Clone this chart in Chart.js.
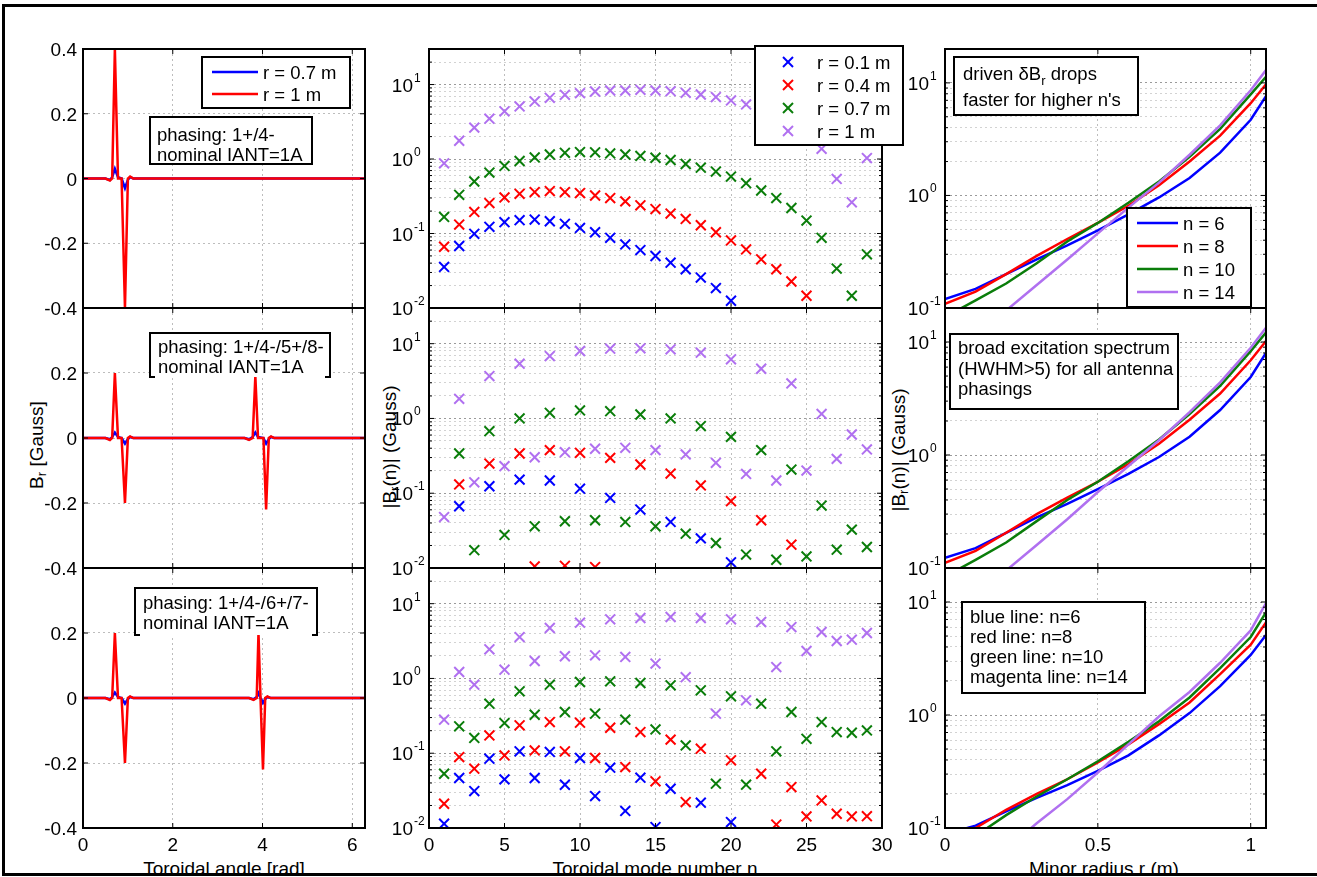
<!DOCTYPE html>
<html>
<head>
<meta charset="utf-8">
<title>Driven Br: toroidal waveform, spectrum and radial profile</title>
<script src="https://cdn.jsdelivr.net/npm/chart.js@4.4.1/dist/chart.umd.min.js"></script>
<style>
  html, body { margin: 0; padding: 0; background: #fff; }
  #fig { position: relative; width: 1317px; height: 877px; overflow: hidden;
         font-family: "Liberation Sans", Arial, Helvetica, sans-serif; color: #000; }
  #fig canvas { position: absolute; }
  .frame { position: absolute; left: 2px; top: 4px; width: 1340px; height: 872px; box-sizing: border-box;
           border: 3px solid #000; border-right: none; z-index: 5; }
  .ytitle { position: absolute; font-size: 19px; white-space: nowrap; transform: translate(-50%, -50%) rotate(-90deg); }
  .ytitle sub { font-size: 13px; vertical-align: -3px; line-height: 0; }
  .xclip { position: absolute; left: 0; top: 840px; width: 1317px; height: 33px; overflow: hidden; }
  .xtitle { position: absolute; top: 19px; font-size: 19px; line-height: 19px; white-space: nowrap; transform: translateX(-50%); }
</style>
</head>
<body>
<div id="fig">
  <div class="ytitle" style="left:37px;top:445px">B<sub>r</sub> [Gauss]</div>
  <div class="ytitle" style="left:390px;top:447px">|B<sub>r</sub>(n)| (Gauss)</div>
  <div class="ytitle" style="left:899px;top:450px">|B<sub>r</sub>(n)| (Gauss)</div>
  <div class="xclip">
    <div class="xtitle" style="left:224px">Toroidal angle [rad]</div>
    <div class="xtitle" style="left:655px">Toroidal mode number n</div>
    <div class="xtitle" style="left:1104px">Minor radius r (m)</div>
  </div>
  <div class="frame"></div>
</div>
<script>
// ---------- data: left column, Br versus toroidal angle ----------
var angleA = [0, 0.5, 0.6, 0.65, 0.71, 0.78, 0.86, 0.935, 1.0, 1.05, 1.12, 6.2832];
var brA_r07 = [0, 0, -0.005, 0.004, 0.03, 0.004, 0, -0.03, -0.004, 0.004, 0, 0];
var brA_r10 = [0, 0, -0.006, 0, 0.4, 0, 0, -0.4, 0, 0.006, 0, 0];

var angleB = [0, 0.5, 0.6, 0.65, 0.71, 0.78, 0.86, 0.935, 1.0, 1.05, 1.12, 3.6, 3.7, 3.78, 3.84, 3.9, 4.02, 4.08, 4.14, 4.19, 4.26, 6.2832];
var brB_r07 = [0, 0, -0.004, 0.003, 0.017, 0.003, 0, -0.017, -0.003, 0.003, 0, 0, -0.004, 0.003, 0.017, 0.003, 0, -0.017, -0.003, 0.003, 0, 0];
var brB_r10 = [0, 0, -0.006, 0, 0.2, 0, 0, -0.2, 0, 0.005, 0, 0, -0.006, 0, 0.19, 0, 0, -0.22, 0, 0.005, 0, 0];

var angleC = [0, 0.5, 0.6, 0.65, 0.71, 0.78, 0.86, 0.935, 1.0, 1.05, 1.12, 3.7, 3.8, 3.87, 3.91, 3.955, 4.01, 4.06, 4.11, 4.18, 6.2832];
var brC_r07 = [0, 0, -0.004, 0.003, 0.017, 0.003, 0, -0.017, -0.003, 0.003, 0, 0, -0.004, 0.003, 0.015, 0, -0.015, -0.003, 0.003, 0, 0];
var brC_r10 = [0, 0, -0.006, 0, 0.2, 0, 0, -0.2, 0, 0.005, 0, 0, -0.006, 0, 0.2, 0, -0.22, 0, 0.005, 0, 0];

// ---------- data: middle column, |Br(n)| spectrum ----------
var modeN = [1, 2, 3, 4, 5, 6, 7, 8, 9, 10, 11, 12, 13, 14, 15, 16, 17, 18, 19, 20, 21, 22, 23, 24, 25, 26, 27, 28, 29];

var specA_r01 = [0.0356, 0.068, 0.099, 0.123, 0.142, 0.151, 0.154, 0.146, 0.135, 0.119, 0.104, 0.0876, 0.0713, 0.060, 0.0499, 0.0406, 0.0331, 0.0256, 0.0185, 0.0125, null, null, null, null, null, null, null, null, null];
var specA_r04 = [0.0664, 0.132, 0.195, 0.256, 0.305, 0.341, 0.360, 0.371, 0.360, 0.349, 0.324, 0.299, 0.270, 0.239, 0.213, 0.185, 0.157, 0.129, 0.104, 0.0807, 0.0612, 0.045, 0.0331, 0.0227, 0.0146, null, null, null, null];
var specA_r07 = [0.167, 0.331, 0.499, 0.657, 0.807, 0.94, 1.05, 1.15, 1.21, 1.24, 1.23, 1.19, 1.15, 1.10, 1.04, 0.97, 0.857, 0.766, 0.678, 0.581, 0.474, 0.378, 0.299, 0.22, 0.149, 0.0876, 0.0338, 0.0146, 0.0525];
var specA_r10 = [0.875, 1.76, 2.64, 3.48, 4.37, 5.09, 5.93, 6.64, 7.28, 7.66, 8.07, 8.32, 8.32, 8.49, 8.32, 8.15, 7.74, 7.35, 6.78, 6.12, 5.41, 4.6, 3.7, 2.8, 2.0, 1.37, 0.541, 0.262, 1.03];

var specB_r01 = [null, 0.067, null, 0.124, null, 0.152, null, 0.148, null, 0.115, null, 0.0866, null, 0.0604, null, 0.0413, null, 0.0249, null, 0.0119, null, null, null, null, null, null, null, null, null];
var specB_r04 = [null, 0.131, null, 0.249, null, 0.34, 0.0105, 0.377, 0.0107, 0.347, 0.0103, 0.297, null, 0.242, null, 0.183, null, 0.127, null, 0.0782, null, 0.0435, null, 0.0205, null, null, null, null, null];
var specB_r07 = [null, 0.34, 0.0173, 0.676, 0.0277, 1.0, 0.0361, 1.19, 0.0422, 1.28, 0.0435, 1.25, 0.0413, 1.13, 0.0361, 1.0, 0.0288, 0.79, 0.0216, 0.567, 0.0151, 0.377, 0.0129, 0.207, 0.0143, 0.0684, 0.0176, 0.0326, 0.0191];
var specB_r10 = [0.048, 1.83, 0.140, 3.69, 0.230, 5.4, 0.303, 6.83, 0.354, 7.98, 0.393, 8.58, 0.405, 8.66, 0.377, 8.4, 0.33, 7.57, 0.255, 6.17, 0.181, 4.62, 0.148, 2.94, 0.201, 1.15, 0.288, 0.61, 0.385];

var specC_r01 = [0.0114, 0.0466, 0.0312, 0.0845, 0.0447, 0.106, 0.0466, 0.104, 0.0379, 0.0863, 0.0267, 0.0641, 0.0169, 0.0471, 0.0103, 0.0335, null, 0.0218, null, 0.0120, null, null, null, null, null, null, null, null, null];
var specC_r04 = [0.0211, 0.0889, 0.0621, 0.173, 0.0935, 0.236, 0.109, 0.261, 0.106, 0.256, 0.0863, 0.219, 0.0653, 0.192, 0.0421, 0.152, 0.0222, 0.115, null, 0.0803, null, 0.0532, 0.0111, 0.0353, 0.0143, 0.0234, 0.0155, 0.0143, 0.0144];
var specC_r07 = [0.0532, 0.229, 0.160, 0.46, 0.253, 0.672, 0.327, 0.826, 0.356, 0.896, 0.338, 0.915, 0.281, 0.869, 0.208, 0.809, 0.127, 0.693, 0.0392, 0.577, 0.038, 0.46, 0.106, 0.356, 0.156, 0.261, 0.192, 0.188, 0.202];
var specC_r10 = [0.281, 1.22, 0.826, 2.45, 1.31, 3.58, 1.71, 4.73, 1.98, 5.57, 2.04, 6.17, 1.94, 6.43, 1.58, 6.63, 1.04, 6.43, 0.338, 6.17, 0.51, 5.69, 1.42, 4.87, 2.33, 4.18, 3.17, 3.3, 4.05];

// ---------- data: right column, |Br(n)| versus minor radius ----------
var radius = [0, 0.1, 0.2, 0.3, 0.4, 0.5, 0.6, 0.7, 0.8, 0.9, 1.0, 1.05];

var profA_n6 = [0.12, 0.148, 0.2, 0.27, 0.36, 0.49, 0.68, 0.96, 1.43, 2.4, 4.7, 7.6];
var profA_n8 = [0.109, 0.14, 0.2, 0.29, 0.41, 0.57, 0.81, 1.23, 2.0, 3.4, 6.6, 9.7];
var profA_n10 = [0.083, 0.117, 0.165, 0.25, 0.39, 0.57, 0.86, 1.33, 2.2, 3.9, 7.9, 11.3];
var profA_n14 = [0.032, 0.055, 0.095, 0.16, 0.27, 0.46, 0.78, 1.3, 2.3, 4.2, 8.6, 13.0];

var profB_n6 = [0.123, 0.15, 0.205, 0.28, 0.37, 0.5, 0.68, 0.96, 1.45, 2.5, 4.9, 8.0];
var profB_n8 = [0.111, 0.142, 0.205, 0.3, 0.42, 0.58, 0.83, 1.26, 2.05, 3.5, 6.9, 10.2];
var profB_n10 = [0.084, 0.118, 0.168, 0.26, 0.4, 0.58, 0.88, 1.37, 2.3, 4.1, 8.3, 12.1];
var profB_n14 = [0.032, 0.055, 0.095, 0.16, 0.27, 0.47, 0.8, 1.35, 2.4, 4.4, 8.9, 13.4];

var profC_n6 = [0.088, 0.105, 0.14, 0.185, 0.24, 0.32, 0.44, 0.66, 1.04, 1.8, 3.4, 5.1];
var profC_n8 = [0.075, 0.1, 0.145, 0.2, 0.27, 0.38, 0.55, 0.83, 1.29, 2.3, 4.2, 6.6];
var profC_n10 = [0.062, 0.085, 0.13, 0.19, 0.27, 0.39, 0.58, 0.88, 1.43, 2.6, 4.9, 8.1];
var profC_n14 = [0.02, 0.038, 0.065, 0.11, 0.18, 0.31, 0.55, 0.97, 1.6, 2.9, 5.6, 9.8];

// ---------- ticks and texts ----------
var angleTicks = [0, 2, 4, 6];
var brTicks = [-0.4, -0.2, 0, 0.2, 0.4];
var modeTicks = [0, 5, 10, 15, 20, 25, 30];
var radiusTicks = [0, 0.5, 1];
var specDecades = [0.01, 0.1, 1, 10];
var profDecades = [0.1, 1, 10];

var radiusLabels = ['r = 0.7 m', 'r = 1 m'];
var spectrumLabels = ['r = 0.1 m', 'r = 0.4 m', 'r = 0.7 m', 'r = 1 m'];
var profileLabels = ['n = 6', 'n = 8', 'n = 10', 'n = 14'];
var phasingA = ['phasing: 1+/4-', 'nominal IANT=1A'];
var phasingB = ['phasing: 1+/4-/5+/8-', 'nominal IANT=1A'];
var phasingC = ['phasing: 1+/4-/6+/7-', 'nominal IANT=1A'];
var noteA = ['driven \u03B4B_r drops', "faster for higher n's"];
var noteB = ['broad excitation spectrum', '(HWHM>5) for all antenna', 'phasings'];
var noteC = ['blue line: n=6', 'red line: n=8', 'green line: n=10', 'magenta line: n=14'];

var BLUE = '#0000ff', RED = '#ff0000', GREEN = '#0a7d0a', PURPLE = '#b070f0';
var FONT = '"Liberation Sans", Arial, Helvetica, sans-serif';

// panel geometry on the page
var ML = 80, MR = 45, MT = 12, MB = 40;
var colBox = [[83, 365], [429, 882], [945, 1266]];
var rowBox = [[49, 308], [308, 568], [568, 828]];

function pairs(xs, ys) {
    var out = [];
    for (var i = 0; i < xs.length; i++) {
        if (ys[i] !== null) out.push({ x: xs[i], y: ys[i] });
    }
    return out;
}

function decadeGrid(min, max) {
    var out = [];
    for (var e = -3; e <= 2; e++) {
        for (var m = 1; m <= 9; m++) {
            var v = Number((m * Math.pow(10, e)).toPrecision(3));
            if (v >= min - 1e-12 && v <= max + 1e-12) out.push(v);
        }
    }
    return out;
}

function isDecade(v) {
    var l = Math.log10(v);
    return Math.abs(l - Math.round(l)) < 1e-9;
}

function lineSet(xs, ys, color) {
    return { data: pairs(xs, ys), showLine: true, borderColor: color, backgroundColor: color,
             borderWidth: 2.5, pointRadius: 0, tension: 0, fill: false };
}

function crossSet(ys, color) {
    return { data: pairs(modeN, ys), showLine: false, pointStyle: 'crossRot', pointRadius: 7,
             pointBorderWidth: 2, borderColor: color, backgroundColor: color,
             pointBorderColor: color };
}

function richText(ctx, s, x, y, size) {
    var parts = s.split(/_(.)/);
    var cx = x;
    for (var i = 0; i < parts.length; i++) {
        if (i % 2) {
            ctx.font = Math.round(size * 0.7) + 'px ' + FONT;
            ctx.fillText(parts[i], cx, y + 5);
        } else {
            ctx.font = size + 'px ' + FONT;
            ctx.fillText(parts[i], cx, y);
        }
        cx += ctx.measureText(parts[i]).width;
    }
    ctx.font = size + 'px ' + FONT;
}

function seg(ctx, x1, y1, x2, y2) {
    ctx.beginPath();
    ctx.moveTo(x1, y1);
    ctx.lineTo(x2, y2);
    ctx.stroke();
}

function drawBox(ctx, b, ox, oy) {
    var x = b.x - ox, y = b.y - oy;
    ctx.fillStyle = '#fff';
    ctx.fillRect(x, y, b.w, b.h);
    ctx.strokeStyle = '#000';
    ctx.lineWidth = 2;
    if (b.bracket) {
        ctx.beginPath();
        ctx.moveTo(x + 5, y + b.h);
        ctx.lineTo(x, y + b.h);
        ctx.lineTo(x, y);
        ctx.lineTo(x + b.w, y);
        ctx.lineTo(x + b.w, y + b.h);
        ctx.lineTo(x + b.w - 5, y + b.h);
        ctx.stroke();
    } else {
        ctx.strokeRect(x, y, b.w, b.h);
    }
    ctx.fillStyle = '#000';
    ctx.textAlign = 'left';
    ctx.textBaseline = 'alphabetic';
    var size = 18.5;
    ctx.font = size + 'px ' + FONT;
    (b.lines || []).forEach(function (t, i) {
        richText(ctx, t, b.tx - ox, b.ty - oy + i * b.lh, size);
    });
    (b.items || []).forEach(function (it, i) {
        var cy = b.iy - oy + i * b.ilh;
        ctx.strokeStyle = it.color;
        ctx.lineWidth = 2.5;
        if (b.kind === 'line') {
            seg(ctx, b.lx0 - ox, cy, b.lx1 - ox, cy);
        } else {
            var mx = b.mx - ox, d = 5;
            ctx.lineWidth = 2;
            seg(ctx, mx - d, cy - d, mx + d, cy + d);
            seg(ctx, mx - d, cy + d, mx + d, cy - d);
        }
        ctx.fillStyle = '#000';
        ctx.fillText(it.label, b.tx - ox, cy + 7);
    });
}

var deco = {
    id: 'deco',
    afterDraw: function (chart, args, o) {
        var ctx = chart.ctx, a = chart.chartArea, sx = chart.scales.x, sy = chart.scales.y;
        ctx.save();
        ctx.setLineDash([]);
        ctx.strokeStyle = '#000';
        ctx.lineWidth = 1;
        // inner tick marks
        o.xAxis.labelsAt.forEach(function (v) {
            var p = sx.getPixelForValue(v);
            seg(ctx, p, a.bottom, p, a.bottom - 5);
            seg(ctx, p, a.top, p, a.top + 5);
        });
        o.yAxis.grid.forEach(function (v) {
            var p = sy.getPixelForValue(v);
            var len = (!o.yAxis.log || isDecade(v)) ? 5 : 3;
            seg(ctx, a.left, p, a.left + len, p);
            seg(ctx, a.right, p, a.right - len, p);
        });
        // axes box
        ctx.lineWidth = 2;
        ctx.strokeRect(a.left, a.top, a.right - a.left, a.bottom - a.top);

        // tick labels
        ctx.fillStyle = '#000';
        ctx.textBaseline = 'alphabetic';
        ctx.font = '19px ' + FONT;
        if (o.showX) {
            ctx.textAlign = 'center';
            o.xAxis.labelsAt.forEach(function (v) {
                ctx.fillText(String(v), sx.getPixelForValue(v), a.bottom + 23);
            });
        }
        if (o.yAxis.log) {
            o.yAxis.labelsAt.forEach(function (v) {
                var p = sy.getPixelForValue(v);
                ctx.font = '19px ' + FONT;
                ctx.textAlign = 'right';
                ctx.fillText('10', a.left - 16, p + 7);
                ctx.font = '12px ' + FONT;
                ctx.textAlign = 'left';
                ctx.fillText(String(Math.round(Math.log10(v))), a.left - 15, p - 3);
            });
        } else {
            ctx.textAlign = 'right';
            o.yAxis.labelsAt.forEach(function (v) {
                if (o.skipTop && v === o.yAxis.max) return;
                ctx.fillText(String(v), a.left - 6, sy.getPixelForValue(v) + 7);
            });
        }
        (o.boxes || []).forEach(function (b) { drawBox(ctx, b, o.ox, o.oy); });
        ctx.restore();
    }
};

function axisOptions(spec, which) {
    return {
        type: spec.log ? 'logarithmic' : 'linear',
        min: spec.min,
        max: spec.max,
        afterBuildTicks: function (s) { s.ticks = spec.grid.map(function (v) { return { value: v }; }); },
        afterFit: function (s) { if (which === 'x') s.height = MB; else s.width = ML; },
        ticks: { display: false },
        grid: {
            drawTicks: false,
            lineWidth: 1,
            color: function (c) {
                if (!c.tick) return '#cccccc';
                if (spec.log) return isDecade(c.tick.value) ? '#9a9a9a' : '#d2d2d2';
                return '#bdbdbd';
            }
        },
        border: { display: false, dash: [2, 3] }
    };
}

function panel(col, row, xSpec, ySpec, datasets, extra) {
    var x0 = colBox[col][0], x1 = colBox[col][1];
    var y0 = rowBox[row][0], y1 = rowBox[row][1];
    var cv = document.createElement('canvas');
    cv.width = x1 - x0 + ML + MR;
    cv.height = y1 - y0 + MT + MB;
    cv.style.left = (x0 - ML) + 'px';
    cv.style.top = (y0 - MT) + 'px';
    document.getElementById('fig').appendChild(cv);
    var decoOpts = { xAxis: xSpec, yAxis: ySpec, showX: row === 2, skipTop: row > 0 && !ySpec.log,
                     boxes: extra || [], ox: x0 - ML, oy: y0 - MT };
    // Chart.js paints the first dataset on top; the figure has the last series on top
    return new Chart(cv, {
        type: 'scatter',
        data: { datasets: datasets.slice().reverse() },
        options: {
            responsive: false,
            animation: false,
            events: [],
            layout: { padding: { left: 0, right: MR, top: MT, bottom: 0 } },
            plugins: { legend: { display: false }, tooltip: { enabled: false }, deco: decoOpts },
            scales: { x: axisOptions(xSpec, 'x'), y: axisOptions(ySpec, 'y') }
        },
        plugins: [deco]
    });
}

var axAngle = { min: 0, max: 2 * Math.PI, grid: angleTicks, labelsAt: angleTicks };
var axBr = { min: -0.4, max: 0.4, grid: brTicks, labelsAt: brTicks };
var axMode = { min: 0, max: 30, grid: modeTicks, labelsAt: modeTicks };
var axSpec = { log: true, min: 0.01, max: 30, grid: decadeGrid(0.01, 30), labelsAt: specDecades };
var axRadius = { min: 0, max: 1.05, grid: radiusTicks, labelsAt: radiusTicks };
var axProf = { log: true, min: 0.1, max: 20, grid: decadeGrid(0.1, 20), labelsAt: profDecades };

// left column
panel(0, 0, axAngle, axBr, [lineSet(angleA, brA_r07, BLUE), lineSet(angleA, brA_r10, RED)], [
    { x: 202, y: 57, w: 148, h: 51, kind: 'line', lx0: 212, lx1: 258, iy: 72, ilh: 22, tx: 263,
      items: [{ color: BLUE, label: radiusLabels[0] }, { color: RED, label: radiusLabels[1] }] },
    { x: 150, y: 117, w: 162, h: 47, tx: 157, ty: 141, lh: 20, lines: phasingA }
]);
panel(0, 1, axAngle, axBr, [lineSet(angleB, brB_r07, BLUE), lineSet(angleB, brB_r10, RED)], [
    { x: 150, y: 333, w: 180, h: 44, bracket: true, tx: 158, ty: 353, lh: 20, lines: phasingB }
]);
panel(0, 2, axAngle, axBr, [lineSet(angleC, brC_r07, BLUE), lineSet(angleC, brC_r10, RED)], [
    { x: 135, y: 588, w: 182, h: 47, bracket: true, tx: 143, ty: 609, lh: 20, lines: phasingC }
]);

// middle column
panel(1, 0, axMode, axSpec, [crossSet(specA_r01, BLUE), crossSet(specA_r04, RED), crossSet(specA_r07, GREEN), crossSet(specA_r10, PURPLE)], [
    { x: 755, y: 46, w: 148, h: 99, kind: 'cross', mx: 788, iy: 62, ilh: 23, tx: 817,
      items: [{ color: BLUE, label: spectrumLabels[0] }, { color: RED, label: spectrumLabels[1] },
              { color: GREEN, label: spectrumLabels[2] }, { color: PURPLE, label: spectrumLabels[3] }] }
]);
panel(1, 1, axMode, axSpec, [crossSet(specB_r01, BLUE), crossSet(specB_r04, RED), crossSet(specB_r07, GREEN), crossSet(specB_r10, PURPLE)]);
panel(1, 2, axMode, axSpec, [crossSet(specC_r01, BLUE), crossSet(specC_r04, RED), crossSet(specC_r07, GREEN), crossSet(specC_r10, PURPLE)]);

// right column
panel(2, 0, axRadius, axProf, [lineSet(radius, profA_n6, BLUE), lineSet(radius, profA_n8, RED), lineSet(radius, profA_n10, GREEN), lineSet(radius, profA_n14, PURPLE)], [
    { x: 954, y: 57, w: 184, h: 58, tx: 963, ty: 80, lh: 26, lines: noteA },
    { x: 1127, y: 208, w: 124, h: 99, kind: 'line', lx0: 1137, lx1: 1178, iy: 223, ilh: 23, tx: 1183,
      items: [{ color: BLUE, label: profileLabels[0] }, { color: RED, label: profileLabels[1] },
              { color: GREEN, label: profileLabels[2] }, { color: PURPLE, label: profileLabels[3] }] }
]);
panel(2, 1, axRadius, axProf, [lineSet(radius, profB_n6, BLUE), lineSet(radius, profB_n8, RED), lineSet(radius, profB_n10, GREEN), lineSet(radius, profB_n14, PURPLE)], [
    { x: 950, y: 334, w: 228, h: 75, tx: 958, ty: 354, lh: 20.5, lines: noteB }
]);
panel(2, 2, axRadius, axProf, [lineSet(radius, profC_n6, BLUE), lineSet(radius, profC_n8, RED), lineSet(radius, profC_n10, GREEN), lineSet(radius, profC_n14, PURPLE)], [
    { x: 962, y: 602, w: 183, h: 91, tx: 970, ty: 623, lh: 20, lines: noteC }
]);
</script>
</body>
</html>
